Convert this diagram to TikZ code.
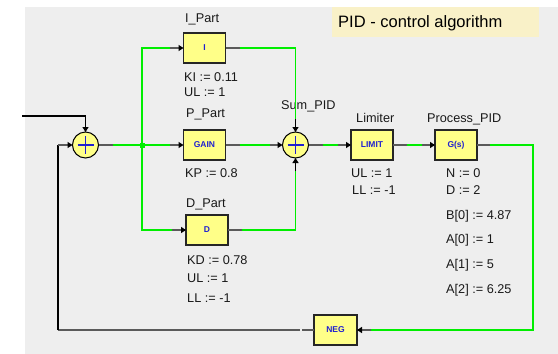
\documentclass[tikz,border=0pt]{standalone}
\usepackage{fontspec}
\setmainfont{Liberation Sans}
\usetikzlibrary{arrows.meta}
\definecolor{bgc}{HTML}{EEEEEE}
\definecolor{tboxc}{HTML}{F9F1C8}
\definecolor{blkfill}{HTML}{FFFF88}
\definecolor{wirec}{HTML}{00EE00}
\definecolor{stubc}{HTML}{5A5A5A}
\definecolor{lblc}{HTML}{2020D0}
\tikzset{
 blk/.style={draw=black!85, line width=1.3pt, fill=blkfill, minimum width=42pt, minimum height=30pt, inner sep=0pt, outer sep=0pt, font=\fontsize{8.5}{9}\selectfont\bfseries, text=lblc},
 sumnode/.style={circle, draw=black, line width=1pt, fill=blkfill, minimum size=26pt, inner sep=0pt, outer sep=0pt},
 gwire/.style={draw=wirec, line width=1.6pt},
 stub/.style={draw=stubc, line width=1.6pt},
 bwire/.style={draw=black, line width=1.4pt},
 arr/.style={-{Triangle[length=5pt,width=6pt,color=black]}},
 txt/.style={anchor=base west, inner sep=0pt, font=\fontsize{12.7}{14}\selectfont, text=black!90},
 plus/.style={draw=lblc, line width=1.2pt},
}
\begin{document}
\begin{tikzpicture}[x=1pt,y=-1pt]
\useasboundingbox (0,0) rectangle (558,354);
\fill[white] (0,0) rectangle (558,354);
\fill[bgc] (25,7) rectangle (558,354);
% title
\node[fill=tboxc, minimum width=207pt, minimum height=30pt, inner sep=0pt, outer sep=0pt] (title) at (435.5,22) {};
\node[anchor=base west, inner sep=0pt, font=\fontsize{16.5}{18}\selectfont] (titletext) at (338,27) {PID - control algorithm};

% blocks
\node[blk] (I) at (204.5,48) {I};
\node[blk] (P) at (204.5,145) {GAIN};
\node[blk] (D) at (207,230) {D};
\node[blk] (L) at (372,145) {LIMIT};
\node[blk] (G) at (456,145) {G(s)};
\node[blk, minimum width=43pt] (N) at (335.5,330) {NEG};
\node[sumnode] (s1) at (85.5,145) {};
\node[sumnode] (sp) at (295.5,145) {};
\draw[plus] (s1.center) ++(-8,0) -- ++(16,0);
\draw[plus] (s1.center) ++(0,-9) -- ++(0,18);
\draw[plus] (sp.center) ++(-8,0) -- ++(16,0);
\draw[plus] (sp.center) ++(0,-9) -- ++(0,18);

% labels
\node[txt] (lI) at (185,22.5) {I\_Part};
\node[txt] (kI) at (184,81.5) {KI := 0.11};
\node[txt] (uI) at (184,96.5) {UL := 1};
\node[txt] (lP) at (186,117.5) {P\_Part};
\node[txt] (kP) at (185,177.5) {KP := 0.8};
\node[txt] (lD) at (186,207.5) {D\_Part};
\node[txt] (kD) at (187,264.5) {KD := 0.78};
\node[txt] (uD) at (187,282.5) {UL := 1};
\node[txt] (llD) at (187,302.5) {LL := -1};
\node[txt] (lS) at (281,109.5) {Sum\_PID};
\node[txt] (lL) at (356,122.5) {Limiter};
\node[txt] (uL) at (351,177.5) {UL := 1};
\node[txt] (llL) at (352,194.5) {LL := -1};
\node[txt] (lG) at (427,122.5) {Process\_PID};
\node[txt] (pN) at (446,177.5) {N := 0};
\node[txt] (pD) at (446,194.5) {D := 2};
\node[txt] (pB) at (446,219.5) {B[0] := 4.87};
\node[txt] (pA0) at (446,243.5) {A[0] := 1};
\node[txt] (pA1) at (446,268.5) {A[1] := 5};
\node[txt] (pA2) at (446,293.5) {A[2] := 6.25};

% coordinates
\coordinate (in) at (22,116);
\coordinate (j) at (142,145);
\coordinate (rt) at (533,145);
\coordinate (rb) at (533,330);
\coordinate (gap) at (300,330);
\coordinate (fb) at (58,330);

% input
\draw[bwire] (in) -- (in -| s1.north);
\draw[bwire, arr] (in -| s1.north) -- (s1.north);

% sum1 -> junction
\draw[stub] (s1.east) -- ++(14,0) coordinate (s1o);
\draw[gwire] (s1o) -- (j);
\fill[wirec] (j) ++(-2.5,-2.5) rectangle ++(5,5);

% junction -> I, P, D
\path (I.west) ++(-14,0) coordinate (ii);
\path (P.west) ++(-14,0) coordinate (pp);
\path (D.west) ++(-14,0) coordinate (dd);
\draw[gwire] (j) |- (ii);
\draw[gwire] (j) -- (pp);
\draw[gwire] (j) |- (dd);
\draw[stub, arr] (ii) -- (I.west);
\draw[stub, arr] (pp) -- (P.west);
\draw[stub, arr] (dd) -- (D.west);

% I, P, D -> Sum_PID
\draw[stub] (I.east) -- ++(14,0) coordinate (io);
\draw[stub] (P.east) -- ++(14,0) coordinate (po);
\draw[stub] (D.east) -- ++(14,0) coordinate (do);
\path (sp.north) ++(0,-13) coordinate (spn);
\path (sp.west) ++(-13,0) coordinate (spw);
\path (sp.south) ++(0,13) coordinate (sps);
\draw[gwire] (io) -- (io -| sp) -- (spn);
\draw[gwire] (po) -- (spw);
\draw[gwire] (do) -- (do -| sp) -- (sps);
\draw[bwire, arr] (spn) -- (sp.north);
\draw[stub, arr] (spw) -- (sp.west);
\draw[bwire, arr] (sps) -- (sp.south);

% Sum_PID -> LIMIT -> G(s)
\draw[stub] (sp.east) -- ++(14,0) coordinate (spo);
\path (L.west) ++(-13,0) coordinate (li);
\draw[gwire] (spo) -- (li);
\draw[stub, arr] (li) -- (L.west);
\draw[stub] (L.east) -- ++(14,0) coordinate (lo);
\path (G.west) ++(-13,0) coordinate (gi);
\draw[gwire] (lo) -- (gi);
\draw[stub, arr] (gi) -- (G.west);

% G(s) -> NEG
\draw[stub] (G.east) -- ++(13,0) coordinate (go);
\path (N.east) ++(14,0) coordinate (ni);
\draw[gwire] (go) -- (rt) -- (rb) -- (ni);
\draw[stub, arr] (ni) -- (N.east);

% NEG -> sum1
\draw[stub] (N.west) -- ++(-12,0) coordinate (no);
\draw[stub] (gap) -- (fb);
\draw[bwire] (fb) -- (fb |- s1);
\draw[stub, arr] (fb |- s1) -- (s1.west);
\end{tikzpicture}
\end{document}
